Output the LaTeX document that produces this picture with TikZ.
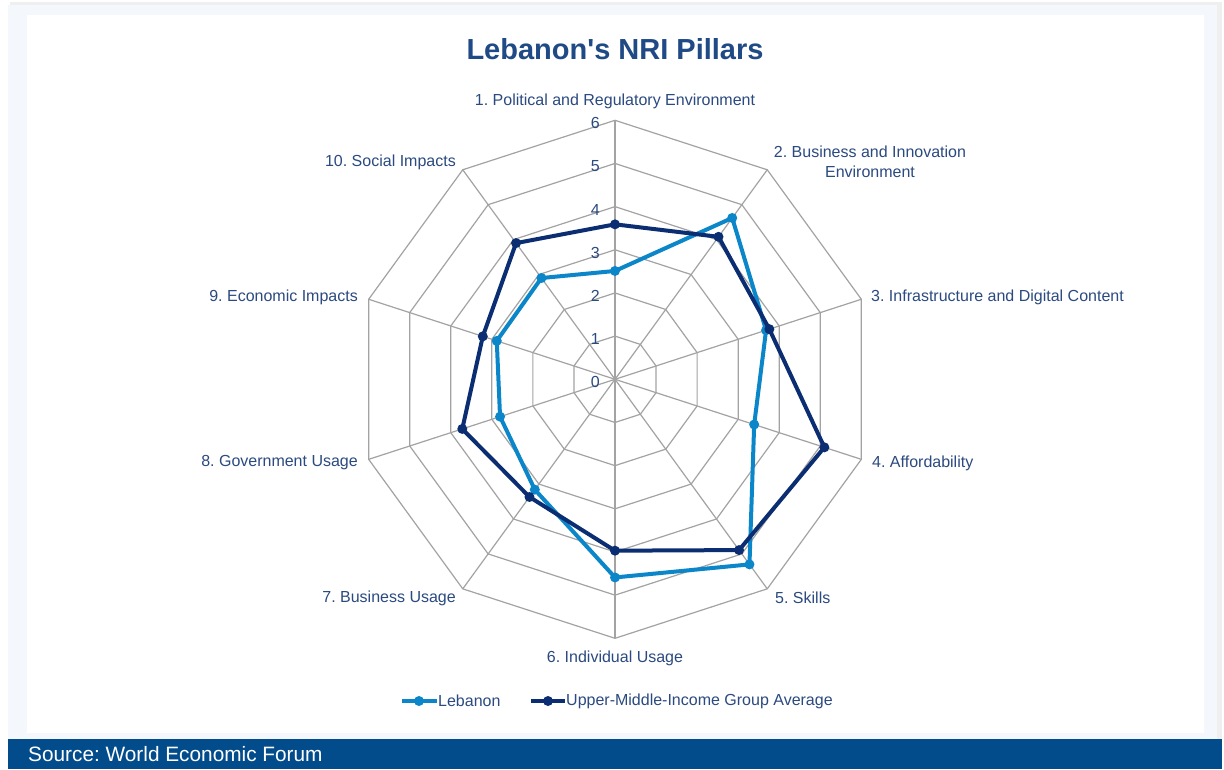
\documentclass[tikz,border=0pt]{standalone}
\usepackage{fontspec}
\setmainfont{Liberation Sans}[Ligatures=TeXOff]
\frenchspacing
\definecolor{panel}{HTML}{F4F8FC}
\definecolor{shadowc}{HTML}{E4E4E4}
\definecolor{barblue}{HTML}{034C8C}
\definecolor{titleblue}{HTML}{1F4A86}
\definecolor{labelblue}{HTML}{2B4A80}
\definecolor{gridgray}{HTML}{A3A3A3}
\definecolor{lebblue}{HTML}{0A86C9}
\definecolor{avgblue}{HTML}{0B2D72}
\tikzset{
  lbl/.style={text=labelblue,font=\fontsize{16}{19.5}\selectfont,inner sep=0pt},
  tick/.style={text=labelblue,font=\fontsize{16}{19}\selectfont,inner sep=0pt,anchor=east},
  gridline/.style={draw=gridgray,line width=1.2pt},
  lebline/.style={draw=lebblue,line width=4pt,line join=round},
  avgline/.style={draw=avgblue,line width=4pt,line join=round},
  lebmark/.style={circle,fill=lebblue,minimum size=10pt,inner sep=0pt},
  avgmark/.style={circle,fill=avgblue,minimum size=10pt,inner sep=0pt},
}
\begin{document}
\begin{tikzpicture}[x=1pt,y=-1pt]
\useasboundingbox (0,0) rectangle (1224,769);
\fill[white] (0,0) rectangle (1224,769);
% frame
\fill[shadowc!60] (10,2) rectangle (1222,741);
\fill[panel] (8,5) rectangle (1217,739);
\fill[white] (27,15) rectangle (1204,733);
\fill[barblue] (8,739) rectangle (1222,769);
\node[anchor=base west,text=white,font=\fontsize{20.8}{24}\selectfont,inner sep=0pt] (src) at (28,761) {Source: World Economic Forum};
% title
\node[text=titleblue,font=\bfseries\fontsize{29}{32}\selectfont,inner sep=0pt] (title) at (615,49) {Lebanon's NRI Pillars};
% radar
\begin{scope}[shift={(615pt,-379.3pt)},y=1pt]
  \foreach \k in {1,...,10} {
    \coordinate (ax\k) at ({90-36*(\k-1)}:259pt);
  }
  \coordinate (ctr) at (0,0);
  \foreach \l in {1,...,6} {
    \pgfmathsetmacro{\rr}{\l*43.1667}
    \draw[gridline] (90:\rr pt) \foreach \k in {2,...,10} { -- ({90-36*(\k-1)}:\rr pt) } -- cycle;
  }
  \foreach \k in {1,...,10} {
    \draw[gridline] (ctr) -- (ax\k);
  }
  \foreach \l in {0,...,6} {
    \pgfmathsetmacro{\ty}{\l*43.1667-3}
    \node[tick] (t\l) at (-15pt,\ty pt) {\l};
  }
  % data
  \foreach \v [count=\k] in {2.51,4.62,3.68,3.39,5.30,4.59,3.16,2.80,2.88,2.90} {
    \pgfmathsetmacro{\rr}{\v*43.1667}
    \coordinate (L\k) at ({90-36*(\k-1)}:\rr pt);
  }
  \foreach \v [count=\k] in {3.59,4.08,3.76,5.10,4.89,3.97,3.37,3.72,3.22,3.90} {
    \pgfmathsetmacro{\rr}{\v*43.1667}
    \coordinate (A\k) at ({90-36*(\k-1)}:\rr pt);
  }
  \draw[lebline] (L1) -- (L2) -- (L3) -- (L4) -- (L5) -- (L6) -- (L7) -- (L8) -- (L9) -- (L10) -- cycle;
  \foreach \k in {1,...,10} { \node[lebmark] (lm\k) at (L\k) {}; }
  \draw[avgline] (A1) -- (A2) -- (A3) -- (A4) -- (A5) -- (A6) -- (A7) -- (A8) -- (A9) -- (A10) -- cycle;
  \foreach \k in {1,...,10} { \node[avgmark] (am\k) at (A\k) {}; }
\end{scope}
% axis labels
\node[lbl] (n1) at (615,101) {1. Political and Regulatory Environment};
\node[lbl,align=center] (n2) at (870,162) {2. Business and Innovation\\Environment};
\node[lbl,anchor=west] (n3) at (871,297) {3. Infrastructure and Digital Content};
\node[lbl,anchor=west] (n4) at (872,463) {4. Affordability};
\node[lbl,anchor=west] (n5) at (775,598) {5. Skills};
\node[lbl] (n6) at (615,658) {6. Individual Usage};
\node[lbl,anchor=east] (n7) at (456,598) {7. Business Usage};
\node[lbl,anchor=east] (n8) at (358,463) {8. Government Usage};
\node[lbl,anchor=east] (n9) at (358,297) {9. Economic Impacts};
\node[lbl,anchor=east] (n10) at (456,162) {10. Social Impacts};
% legend
\coordinate (lg1a) at (402,701);
\coordinate (lg1b) at (437,701);
\draw[lebblue,line width=4pt] (lg1a) -- (lg1b);
\node[lebmark] (lg1m) at (419,701) {};
\node[lbl,anchor=west] (lg1t) at (438,701) {Lebanon};
\coordinate (lg2a) at (531,701);
\coordinate (lg2b) at (565,701);
\draw[avgblue,line width=4pt] (lg2a) -- (lg2b);
\node[avgmark] (lg2m) at (548,701) {};
\node[lbl,anchor=west] (lg2t) at (566,701) {Upper-Middle-Income Group Average};
\end{tikzpicture}
\end{document}
